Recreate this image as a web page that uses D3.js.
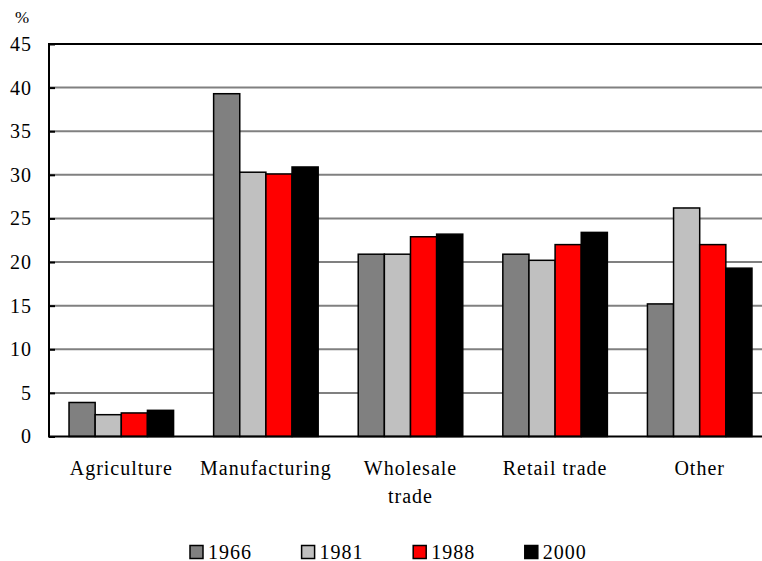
<!DOCTYPE html>
<html>
<head>
<meta charset="utf-8">
<script src="https://cdn.jsdelivr.net/npm/d3@7"></script>
<style>
  html, body { margin: 0; padding: 0; background: #fff; }
  svg { display: block; }
</style>
</head>
<body>
<script>
// Sector shares of employment, %
const categories = ["Agriculture", "Manufacturing", "Wholesale trade", "Retail trade", "Other"];
const years = ["1966", "1981", "1988", "2000"];
const v1966 = [3.9, 39.3, 20.9, 20.9, 15.2];
const v1981 = [2.5, 30.3, 20.9, 20.2, 26.2];
const v1988 = [2.7, 30.1, 22.9, 22.0, 22.0];
const v2000 = [3.0, 30.9, 23.2, 23.4, 19.3];
const yTicks = [0, 5, 10, 15, 20, 25, 30, 35, 40, 45];
const colors = ["#808080", "#c0c0c0", "#ff0000", "#000000"];

const FONT = "'Liberation Serif'";

const series = [v1966, v1981, v1988, v2000];
const rows = categories.map((c, i) => ({
  cat: c,
  values: years.map((yr, j) => ({ year: yr, value: series[j][i] }))
}));

const W = 762, H = 561;
const plotLeft = 49, plotTop = 44, plotBottom = 436.5;
const plotW = 723;

const svg = d3.select("body").append("svg").attr("width", W).attr("height", H)
  .attr("font-family", "Liberation Serif").style("font-family", FONT);

const x0 = d3.scaleBand().domain(categories)
  .range([plotLeft, plotLeft + plotW]).paddingInner(0.277).paddingOuter(0.1385);
const x1 = d3.scaleBand().domain(years).range([0, x0.bandwidth()]);
const y = d3.scaleLinear().domain([0, 45]).range([plotBottom, plotTop]);
const color = d3.scaleOrdinal().domain(years).range(colors);

// gridlines
svg.append("g").selectAll("line").data(yTicks.filter(t => t > 0 && t < 45)).join("line")
  .attr("x1", plotLeft).attr("x2", plotLeft + plotW)
  .attr("y1", d => y(d)).attr("y2", d => y(d))
  .attr("stroke", "#808080").attr("stroke-width", 2);

// bars
svg.append("g").selectAll("g").data(rows).join("g")
  .attr("transform", d => `translate(${x0(d.cat)},0)`)
  .selectAll("rect").data(d => d.values).join("rect")
  .attr("x", d => x1(d.year))
  .attr("width", x1.bandwidth())
  .attr("y", d => y(d.value))
  .attr("height", d => y(0) - y(d.value))
  .attr("fill", d => color(d.year))
  .attr("stroke", "#000").attr("stroke-width", 1.5);

// frame: top, left, bottom
svg.append("line").attr("x1", plotLeft).attr("x2", plotLeft + plotW).attr("y1", y(45)).attr("y2", y(45))
  .attr("stroke", "#000").attr("stroke-width", 2);
svg.append("line").attr("x1", plotLeft).attr("x2", plotLeft + plotW).attr("y1", y(0)).attr("y2", y(0))
  .attr("stroke", "#000").attr("stroke-width", 2);
svg.append("line").attr("x1", plotLeft).attr("x2", plotLeft).attr("y1", y(45) - 1).attr("y2", y(0) + 1)
  .attr("stroke", "#000").attr("stroke-width", 2);

// y axis
const yAxis = d3.axisLeft(y).tickValues(yTicks).tickSize(-6).tickPadding(17);
const gy = svg.append("g").attr("transform", `translate(${plotLeft},0)`).call(yAxis);
gy.attr("font-family", "Liberation Serif").attr("font-size", 20);
gy.select(".domain").remove();
gy.selectAll(".tick line").attr("stroke", "#000").attr("stroke-width", 2);
gy.selectAll(".tick text")
  .attr("font-family", "Liberation Serif")
  .style("font-family", FONT)
  .style("font-size", "20px").style("letter-spacing", "1px").attr("fill", "#000");

svg.append("text").attr("x", 15).attr("y", 23)
  .attr("font-family", "Liberation Serif").style("font-family", FONT)
  .style("font-size", "17px").text("%");

// x axis labels
const labelLines = { "Wholesale trade": ["Wholesale", "trade"] };
const xl = svg.append("g").selectAll("text").data(categories).join("text")
  .attr("x", d => x0(d) + x0.bandwidth() / 2)
  .attr("y", 475)
  .attr("text-anchor", "middle")
  .attr("font-family", "Liberation Serif")
  .style("font-family", FONT).style("font-size", "20px").style("letter-spacing", "1px");
xl.each(function(d) {
  const lines = labelLines[d] || [d];
  d3.select(this).selectAll("tspan").data(lines).join("tspan")
    .attr("x", x0(d) + x0.bandwidth() / 2)
    .attr("dy", (l, i) => i === 0 ? 0 : 28)
    .text(l => l);
});

// legend
const legend = svg.append("g").selectAll("g").data(years).join("g")
  .attr("transform", (d, i) => `translate(${190 + i * 111.6},545.5)`);
legend.append("rect").attr("width", 13).attr("height", 13)
  .attr("fill", d => color(d)).attr("stroke", "#000").attr("stroke-width", 1.5);
legend.append("text").attr("x", 18).attr("y", 13)
  .attr("font-family", "Liberation Serif")
  .style("font-family", FONT).style("font-size", "20px").style("letter-spacing", "1px")
  .text(d => d);
</script>
</body>
</html>
